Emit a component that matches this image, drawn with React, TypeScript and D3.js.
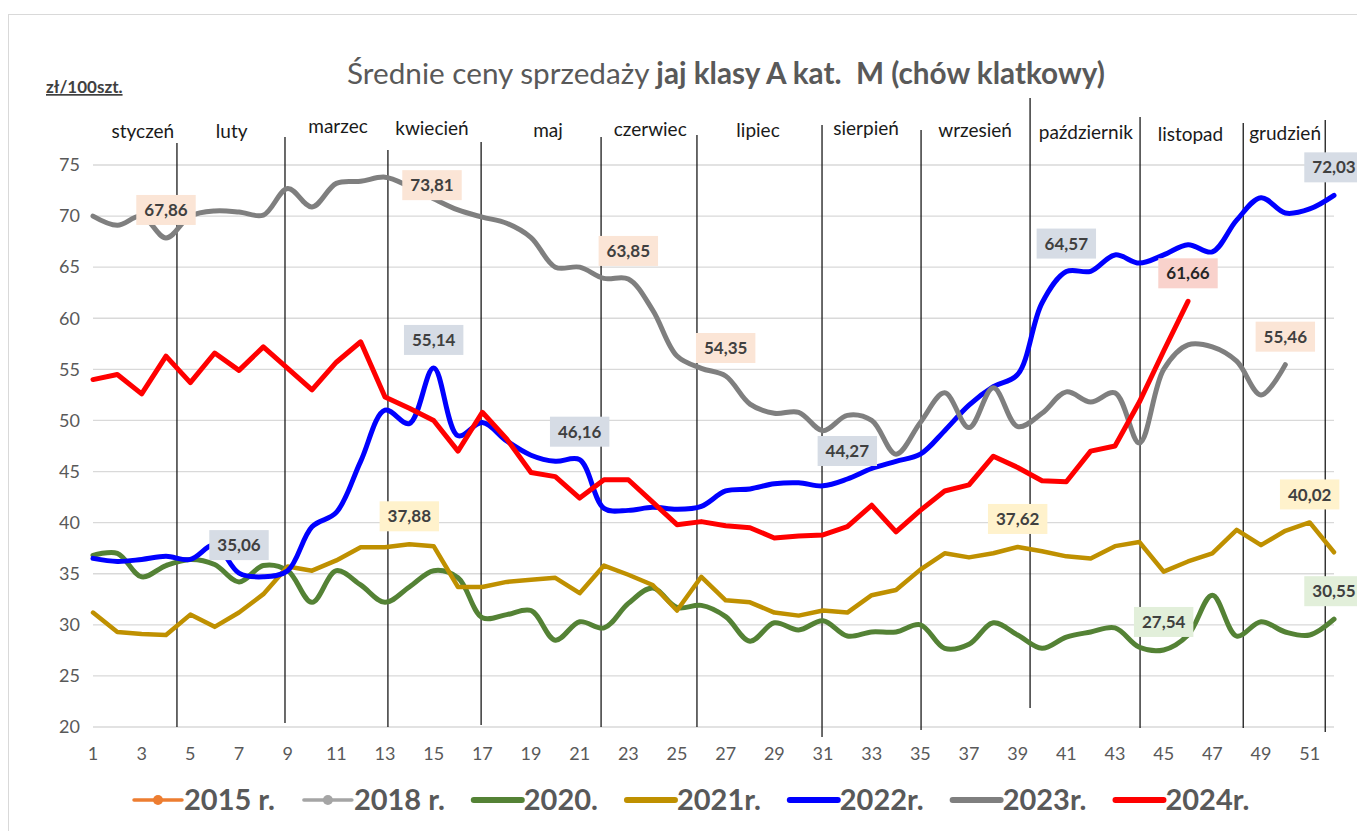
import { useEffect, useRef } from 'react';
import * as d3 from 'd3';

// weekly average prices, zł/100 szt.
const prices2020 = [36.8, 37.0, 34.7, 35.8, 36.4, 35.9, 34.2, 35.8, 35.3, 32.2, 35.3, 33.9, 32.2, 33.7, 35.3, 34.6, 30.7, 31.0, 31.4, 28.5, 30.3, 29.7, 32.1, 33.6, 31.7, 31.9, 30.8, 28.4, 30.2, 29.5, 30.4, 28.9, 29.3, 29.3, 30.0, 27.7, 28.1, 30.2, 29.0, 27.7, 28.8, 29.3, 29.7, 27.8, 27.54, 29.0, 32.9, 28.9, 30.3, 29.3, 29.0, 30.55];
const prices2021 = [31.2, 29.3, 29.1, 29.0, 31.0, 29.8, 31.2, 33.0, 35.7, 35.3, 36.3, 37.6, 37.6, 37.88, 37.7, 33.7, 33.7, 34.2, 34.4, 34.6, 33.1, 35.8, 34.9, 33.9, 31.4, 34.7, 32.4, 32.2, 31.2, 30.9, 31.4, 31.2, 32.9, 33.4, 35.4, 37.0, 36.6, 37.0, 37.62, 37.2, 36.7, 36.5, 37.7, 38.1, 35.2, 36.2, 37.0, 39.3, 37.8, 39.2, 40.02, 37.1];
const prices2022 = [36.5, 36.2, 36.4, 36.7, 36.4, 37.8, 35.06, 34.7, 35.3, 39.6, 41.0, 46.0, 51.0, 49.7, 55.14, 48.5, 49.8, 48.0, 46.6, 46.0, 46.16, 41.4, 41.2, 41.5, 41.3, 41.6, 43.1, 43.3, 43.8, 43.9, 43.6, 44.27, 45.3, 46.0, 46.7, 49.0, 51.5, 53.3, 54.5, 61.5, 64.57, 64.6, 66.2, 65.4, 66.2, 67.2, 66.5, 69.6, 71.8, 70.3, 70.7, 72.03];
const prices2023 = [70.0, 69.1, 70.0, 67.86, 70.0, 70.5, 70.4, 70.1, 72.7, 70.9, 73.2, 73.4, 73.81, 72.9, 71.7, 70.6, 69.9, 69.3, 67.9, 65.0, 65.0, 63.9, 63.85, 60.8, 56.3, 55.1, 54.35, 51.6, 50.7, 50.8, 49.0, 50.5, 50.0, 46.7, 49.8, 52.7, 49.3, 53.2, 49.4, 50.7, 52.8, 51.8, 52.7, 47.8, 55.0, 57.4, 57.2, 55.8, 52.5, 55.46];
const prices2024 = [54.0, 54.5, 52.6, 56.3, 53.7, 56.6, 54.9, 57.2, 55.1, 53.0, 55.7, 57.7, 52.3, 51.2, 50.0, 47.0, 50.8, 48.2, 44.9, 44.5, 42.4, 44.2, 44.2, 42.0, 39.8, 40.1, 39.7, 39.5, 38.5, 38.7, 38.8, 39.6, 41.7, 39.1, 41.2, 43.1, 43.7, 46.5, 45.4, 44.1, 44.0, 47.0, 47.5, 51.8, 56.8, 61.66];

const yTicks = d3.range(20, 76, 5);
const xTicks = d3.range(1, 53, 2);

const months = ['styczeń', 'luty', 'marzec', 'kwiecień', 'maj', 'czerwiec', 'lipiec', 'sierpień', 'wrzesień', 'październik', 'listopad', 'grudzień'];
const monthCenter = [3.05, 6.7, 11.07, 14.93, 19.7, 23.9, 28.33, 32.77, 37.25, 41.8, 46.1, 49.99];
const monthBounds = [4.45, 8.89, 13.12, 16.95, 21.88, 25.82, 30.96, 35.03, 39.51, 44.03, 48.27, 51.64];

const series = [
  { name: '2020.', values: prices2020, color: '#548235', smooth: true, width: 5 },
  { name: '2021r.', values: prices2021, color: '#BF9000', smooth: false, width: 4.5 },
  { name: '2022r.', values: prices2022, color: '#0000FF', smooth: true, width: 5 },
  { name: '2023r.', values: prices2023, color: '#7F7F7F', smooth: true, width: 5 },
  { name: '2024r.', values: prices2024, color: '#FF0000', smooth: false, width: 5 },
];

const legendItems = [
  { name: '2015 r.', color: '#ED7D31', marker: true },
  { name: '2018 r.', color: '#A5A5A5', marker: true },
  { name: '2020.', color: '#548235', marker: false },
  { name: '2021r.', color: '#BF9000', marker: false },
  { name: '2022r.', color: '#0000FF', marker: false },
  { name: '2023r.', color: '#7F7F7F', marker: false },
  { name: '2024r.', color: '#FF0000', marker: false },
];

// which points carry a value label
const labelled = [
  { name: '2023r.', week: 4 }, { name: '2023r.', week: 13 }, { name: '2023r.', week: 23 },
  { name: '2023r.', week: 27 }, { name: '2023r.', week: 50 },
  { name: '2022r.', week: 7 }, { name: '2022r.', week: 15 }, { name: '2022r.', week: 21 },
  { name: '2022r.', week: 32 }, { name: '2022r.', week: 41 }, { name: '2022r.', week: 52 },
  { name: '2024r.', week: 46 },
  { name: '2021r.', week: 14 }, { name: '2021r.', week: 39 }, { name: '2021r.', week: 51 },
  { name: '2020.', week: 45 }, { name: '2020.', week: 52 },
];

const labelFill: Record<string, string> = {
  '2020.': '#E2EFDA', '2021r.': '#FFF2CC', '2022r.': '#D6DCE5', '2023r.': '#FBE5D6', '2024r.': '#F9D2CC',
};

// layout tweaks (px) for the hand-drawn separators / moved labels
const boundTop = [143, 137, 150, 142, 137, 135, 125, 130, 98, 117, 123, 120];
const boundBottom = [727, 723, 727, 725, 727, 727, 737, 730, 708, 728, 728, 732];
const monthBaseline = [138, 138, 133, 135, 137, 136, 137, 135, 137, 139, 141, 140];
const labelShift: Record<string, [number, number]> = { '2023r.-13': [47, 36] };

const FONT = 'Lato, "Open Sans", sans-serif';
const fmt = (v: number) => v.toFixed(2).replace('.', ',');

export default function App() {
  const svgRef = useRef<SVGSVGElement>(null);

  useEffect(() => {
    const svg = d3.select(svgRef.current);
    if (!svg.node()) return;
    svg.selectAll('*').remove();

    const x = d3.scaleLinear().domain([1, 52]).range([93, 1334]);
    const y = d3.scaleLinear().domain([20, 75]).range([727, 165]);

    svg.append('rect').attr('width', 1357).attr('height', 831).attr('fill', '#fff');
    svg.append('rect')
      .attr('x', 8.5).attr('y', 14.5).attr('width', 1400).attr('height', 900)
      .attr('fill', 'none').attr('stroke', '#D9D9D9');

    // title
    const title = svg.append('text')
      .attr('x', 726).attr('y', 84).attr('text-anchor', 'middle')
      .attr('font-family', FONT).attr('font-size', 29.7).attr('fill', '#595959')
      .style('white-space', 'pre');
    title.append('tspan').text('Średnie ceny sprzedaży ');
    title.append('tspan').attr('font-weight', 'bold').text('jaj klasy A kat.  M (chów klatkowy)');

    svg.append('text')
      .attr('x', 46).attr('y', 93)
      .attr('font-family', FONT).attr('font-size', 17).attr('font-weight', 'bold')
      .attr('fill', '#404040').attr('text-decoration', 'underline')
      .text('zł/100szt.');

    // grid + y ticks
    const grid = svg.append('g');
    grid.selectAll('line').data(yTicks).join('line')
      .attr('x1', x(1)).attr('x2', x(52))
      .attr('y1', (d) => y(d)).attr('y2', (d) => y(d))
      .attr('stroke', '#D9D9D9').attr('stroke-width', 1.3);
    grid.selectAll('text').data(yTicks).join('text')
      .attr('x', 80).attr('y', (d) => y(d)).attr('dy', '0.35em')
      .attr('text-anchor', 'end').attr('font-family', FONT).attr('font-size', 18)
      .attr('fill', '#595959').text((d) => d);

    svg.append('g').selectAll('text').data(xTicks).join('text')
      .attr('x', (d) => x(d)).attr('y', 760).attr('text-anchor', 'middle')
      .attr('font-family', FONT).attr('font-size', 18).attr('fill', '#595959')
      .text((d) => d);

    // month separators and names
    svg.append('g').selectAll('line').data(monthBounds).join('line')
      .attr('x1', (d) => x(d)).attr('x2', (d) => x(d))
      .attr('y1', (_d, i) => boundTop[i]).attr('y2', (_d, i) => boundBottom[i])
      .attr('stroke', '#1a1a1a').attr('stroke-width', 1.3);
    svg.append('g').selectAll('text').data(months).join('text')
      .attr('x', (_d, i) => x(monthCenter[i])).attr('y', (_d, i) => monthBaseline[i])
      .attr('text-anchor', 'middle').attr('font-family', FONT).attr('font-size', 19)
      .attr('fill', '#1a1a1a').text((d) => d);

    // series
    const lines = svg.append('g').attr('fill', 'none')
      .attr('stroke-linejoin', 'round').attr('stroke-linecap', 'round');
    series.forEach((s) => {
      const line = d3.line<number>()
        .x((_d, i) => x(i + 1))
        .y((d) => y(d))
        .curve(s.smooth ? d3.curveCatmullRom.alpha(0.5) : d3.curveLinear);
      lines.append('path')
        .attr('d', line(s.values))
        .attr('stroke', s.color).attr('stroke-width', s.width);
    });

    // value labels
    const labels = svg.append('g');
    labelled.forEach(({ name, week }) => {
      const s = series.find((d) => d.name === name)!;
      const v = s.values[week - 1];
      const [dx, dy] = labelShift[`${name}-${week}`] ?? [0, 0];
      const cx = x(week) + dx;
      const cy = y(v) - 28 + dy;
      const g = labels.append('g');
      const rect = g.append('rect').attr('fill', labelFill[name]);
      const t = g.append('text')
        .attr('x', cx).attr('y', cy).attr('dy', '0.36em').attr('text-anchor', 'middle')
        .attr('font-family', FONT).attr('font-size', 17).attr('font-weight', 'bold')
        .attr('fill', name === '2024r.' ? '#262626' : '#404040')
        .text(fmt(v));
      const w = (t.node() as SVGTextElement).getComputedTextLength() + 16;
      rect.attr('x', cx - w / 2).attr('y', cy - 15).attr('width', w).attr('height', 30);
    });

    // legend
    const legend = svg.append('g');
    let lx = 134;
    const ly = 800;
    legendItems.forEach((item) => {
      legend.append('line')
        .attr('x1', lx).attr('x2', lx + 48).attr('y1', ly).attr('y2', ly)
        .attr('stroke', item.color).attr('stroke-width', item.marker ? 3.5 : 6)
        .attr('stroke-linecap', 'round');
      if (item.marker) {
        legend.append('circle').attr('cx', lx + 24).attr('cy', ly).attr('r', 5)
          .attr('fill', item.color);
      }
      const t = legend.append('text')
        .attr('x', lx + 50).attr('y', ly + 10)
        .attr('font-family', FONT).attr('font-size', 29).attr('font-weight', 'bold')
        .attr('fill', '#595959').text(item.name);
      lx += 50 + (t.node() as SVGTextElement).getComputedTextLength() + 29;
    });
  }, []);

  return (
    <svg
      ref={svgRef}
      width={1357}
      height={831}
      style={{ position: 'absolute', left: 0, top: 0 }}
    />
  );
}
